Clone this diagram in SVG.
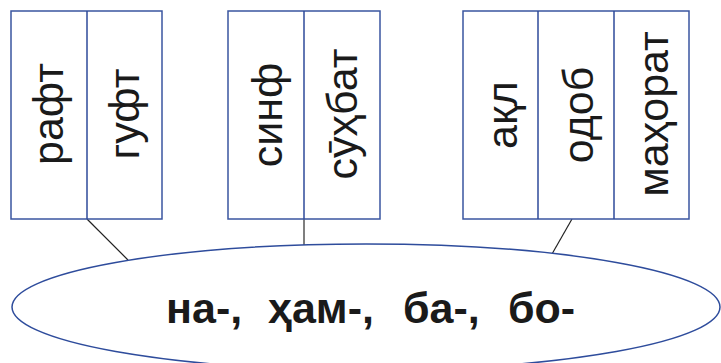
<svg xmlns="http://www.w3.org/2000/svg" width="721" height="363" viewBox="0 0 721 363">
<style>
.box{fill:#fff;stroke:#3a55a0;stroke-width:1.5}
.div{stroke:#2e4a9a;stroke-width:1.5}
.word{font-family:"Liberation Sans",Arial,sans-serif;font-size:43px;fill:#1a1a1a;text-anchor:middle}
.conn{stroke:#222;stroke-width:1.2;fill:none}
.ell{fill:#fff;stroke:#2e4c9c;stroke-width:1.5}
.main{font-family:"Liberation Sans",Arial,sans-serif;font-size:43px;font-weight:bold;fill:#1a1a1a}
</style>
<rect width="721" height="363" fill="#fff"/>
<g id="connectors">
<line class="conn" x1="87" y1="219" x2="128" y2="260"/>
<line class="conn" x1="304" y1="219" x2="304" y2="245" style="stroke:#555;stroke-width:1.5"/>
<line class="conn" x1="572" y1="219" x2="552" y2="254"/>
</g>
<g id="box1">
<rect class="box" x="11" y="11" width="151" height="208"/>
<line class="div" x1="87" y1="11" x2="87" y2="219"/>
<text class="word" transform="translate(63,114) rotate(-90)">рафт</text>
<text class="word" transform="translate(139,114) rotate(-90)">гуфт</text>
</g>
<g id="box2">
<rect class="box" x="228" y="11" width="152" height="208"/>
<line class="div" x1="304" y1="11" x2="304" y2="219"/>
<text class="word" transform="translate(282,115) rotate(-90)">синф</text>
<text class="word" transform="translate(357,114) rotate(-90)">сӯҳбат</text>
</g>
<g id="box3">
<rect class="box" x="463" y="11" width="226" height="208"/>
<line class="div" x1="538" y1="11" x2="538" y2="219"/>
<line class="div" x1="614" y1="11" x2="614" y2="219"/>
<text class="word" transform="translate(517,115) rotate(-90)">ақл</text>
<text class="word" transform="translate(593,115) rotate(-90)">одоб</text>
<text class="word" transform="translate(668,114) rotate(-90)">маҳорат</text>
</g>
<g id="ellipse">
<ellipse class="ell" cx="366" cy="307" rx="354" ry="63"/>
<text class="main" y="323"><tspan x="166">на-, </tspan><tspan x="268">ҳам-, </tspan><tspan x="403">ба-, </tspan><tspan x="508">бо-</tspan></text>
</g>
</svg>
